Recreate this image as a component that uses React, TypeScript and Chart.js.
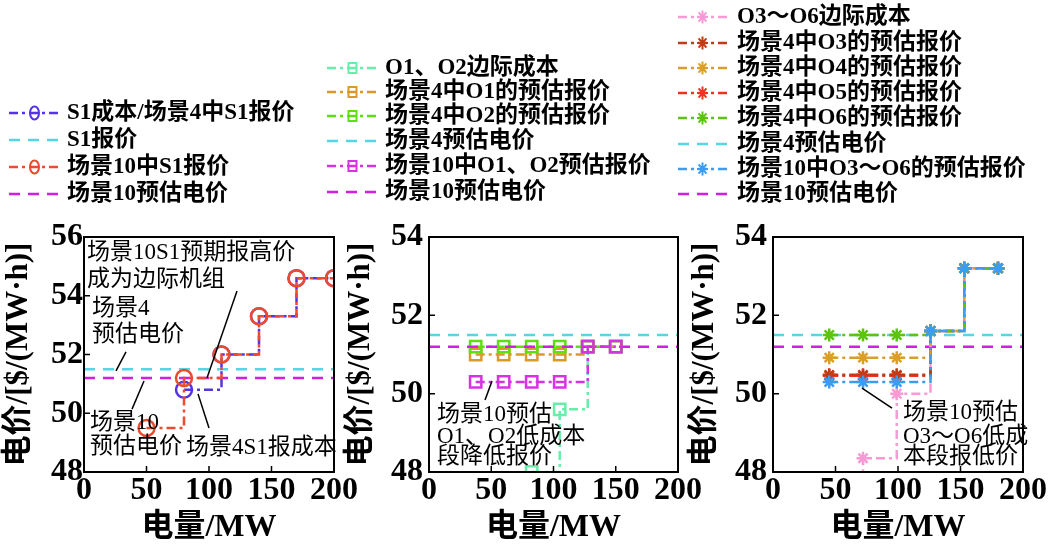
import React, { useEffect, useRef } from 'react';
import { Chart, registerables } from 'chart.js';

Chart.register(...registerables);

const FONT = '"Liberation Serif", "Noto Sans CJK SC", serif';

// ---------- shared ----------
const xTicks = [0, 50, 100, 150, 200];
const priceX = [0, 200];
const priceS4 = 51.5; // 场景4预估电价
const priceS10 = 51.2; // 场景10预估电价

// ---------- panel (a): S1 ----------
const aYTicks = [48, 50, 52, 54, 56];
const aX_S1Cost = [80, 110, 140, 170, 200];
const aY_S1Cost = [50.8, 52.0, 53.3, 54.6, 54.6];
const aX_S1Bid10 = [50, 80, 110, 140, 170, 200];
const aY_S1Bid10 = [49.5, 51.2, 52.0, 53.3, 54.6, 54.6];

// ---------- panel (b): O1, O2 ----------
const bYTicks = [48, 50, 52, 54];
const bX = [37.5, 60, 82.5, 105, 127.5, 150];
const bX_Cost = [82.5, 105, 127.5, 150];
const bY_Cost = [48.0, 49.6, 51.2, 51.2];
const bY_O1S4 = [51.0, 51.0, 51.0, 51.0, 51.2, 51.2];
const bY_O2S4 = [51.2, 51.2, 51.2, 51.2, 51.2, 51.2];
const bY_S10 = [50.3, 50.3, 50.3, 50.3, 51.2, 51.2];

// ---------- panel (c): O3 ~ O6 ----------
const cYTicks = [48, 50, 52, 54];
const cX = [45, 72, 99, 126, 153, 180];
const cY_Cost = [47.5, 48.35, 50.0, 51.6, 53.2, 53.2];
const cY_O3S4 = [50.48, 50.48, 50.48, 51.6, 53.2, 53.2];
const cY_O4S4 = [50.92, 50.92, 50.92, 51.6, 53.2, 53.2];
const cY_O5S4 = [50.46, 50.46, 50.46, 51.6, 53.2, 53.2];
const cY_O6S4 = [51.5, 51.5, 51.5, 51.6, 53.2, 53.2];
const cY_S10 = [50.3, 50.3, 50.3, 51.6, 53.2, 53.2];

// ---------- annotations (data units) ----------
const aNotes = [
  { text: '场景10S1预期报高价', x: 2.4, y: 55.46 },
  { text: '成为边际机组', x: 2.4, y: 54.54 },
  { text: '场景4', x: 6.4, y: 53.55 },
  { text: '预估电价', x: 6.4, y: 52.66 },
  { text: '场景10', x: 4.8, y: 49.67 },
  { text: '预估电价', x: 4.8, y: 48.85 },
  { text: '场景4S1报成本', x: 81.6, y: 48.82 },
];
const aLeaders = [
  [122.4, 54.16, 98.4, 51.2],
  [33.6, 52.09, 25.6, 51.44],
  [48, 51.1, 38.4, 50.14],
  [91.2, 50.66, 100, 49.5],
];
const bNotes = [
  { text: '场景10预估', x: 6.4, y: 49.46 },
  { text: 'O1、O2低成本', x: 6.4, y: 48.89 },
  { text: '段降低报价', x: 6.4, y: 48.38 },
];
const bLeaders = [[50.6, 50.32, 45, 49.84]];
const cNotes = [
  { text: '场景10预估', x: 104, y: 49.51 },
  { text: 'O3～O6低成', x: 104, y: 48.89 },
  { text: '本段报低价', x: 104, y: 48.38 },
];
const cLeaders = [[71.2, 50.14, 95.2, 49.63]];

// ---------- styles ----------
const DASH = [11, 8];
const DASHDOT = [9, 4, 3, 4];

function pts(xs: number[], ys: number[]) {
  return xs.map((x, i) => ({ x, y: ys[i] }));
}

function stepSeries(label: string, xs: number[], ys: number[], color: string, style: string, order: number, legendIndex: number, radius: number | number[] = 8) {
  return {
    label,
    data: pts(xs, ys),
    borderColor: color,
    backgroundColor: color,
    borderWidth: 2.5,
    borderDash: DASHDOT,
    stepped: 'before',
    pointStyle: style,
    pointRadius: radius,
    pointBorderWidth: 2.5,
    pointBorderColor: color,
    pointBackgroundColor: 'rgba(0,0,0,0)',
    order,
    legendIndex,
    legendStyle: style,
    legendDash: DASHDOT,
  };
}

function priceLine(label: string, y: number, color: string, order: number, legendIndex: number) {
  return {
    label,
    data: pts(priceX, [y, y]),
    borderColor: color,
    backgroundColor: color,
    borderWidth: 2.5,
    borderDash: DASH,
    pointRadius: 0,
    order,
    legendIndex,
    legendStyle: 'none',
    legendDash: DASH,
  };
}

const C = {
  s1: '#5533e6',
  cyan: '#55d6e2',
  red: '#ee4a2e',
  magenta: '#d01fe0',
  aqua: '#66eeaa',
  o1: '#d99a2b',
  o2: '#5ee010',
  magSq: '#d633e0',
  pink: '#f79ad6',
  o3: '#c43a14',
  o4: '#dc9f25',
  o5: '#ee3322',
  o6: '#5cc40f',
  blue: '#3c9cf0',
};

const aDatasets = [
  stepSeries('场景10中S1报价', aX_S1Bid10, aY_S1Bid10, C.red, 'circle', 1, 2),
  stepSeries('S1成本/场景4中S1报价', aX_S1Cost, aY_S1Cost, C.s1, 'circle', 2, 0),
  priceLine('场景10预估电价', priceS10, C.magenta, 3, 3),
  priceLine('S1报价', priceS4, C.cyan, 4, 1),
];

const bDatasets = [
  stepSeries('场景10中O1、O2预估报价', bX, bY_S10, C.magSq, 'rect', 1, 4, 8),
  priceLine('场景10预估电价', priceS10, C.magenta, 2, 5),
  stepSeries('场景4中O2的预估报价', bX, bY_O2S4, C.o2, 'rect', 3, 2, 8),
  stepSeries('场景4中O1的预估报价', bX, bY_O1S4, C.o1, 'rect', 4, 1, 8),
  stepSeries('O1、O2边际成本', bX_Cost, bY_Cost, C.aqua, 'rect', 5, 0, 8),
  priceLine('场景4预估电价', priceS4, C.cyan, 6, 3),
];

const cDatasets = [
  stepSeries('场景10中O3～O6的预估报价', cX, cY_S10, C.blue, 'star', 1, 6, 6.5),
  stepSeries('场景4中O6的预估报价', cX, cY_O6S4, C.o6, 'star', 2, 4, 6.5),
  stepSeries('场景4中O4的预估报价', cX, cY_O4S4, C.o4, 'star', 3, 2, 6.5),
  stepSeries('场景4中O3的预估报价', cX, cY_O3S4, C.o3, 'star', 4, 1, 6.5),
  stepSeries('场景4中O5的预估报价', cX, cY_O5S4, C.o5, 'star', 5, 3, 6.5),
  stepSeries('O3～O6边际成本', cX, cY_Cost, C.pink, 'star', 6, 0, [0, 6.5, 6.5, 6.5, 6.5, 6.5]),
  priceLine('场景4预估电价', priceS4, C.cyan, 7, 5),
  priceLine('场景10预估电价', priceS10, C.magenta, 8, 7),
];

// ---------- plugins ----------
const framePlugin = {
  id: 'frame',
  afterDraw(chart: any) {
    const { ctx, chartArea: a, scales } = chart;
    ctx.save();
    ctx.strokeStyle = '#000';
    ctx.lineWidth = 2;
    ctx.setLineDash([]);
    ctx.strokeRect(a.left, a.top, a.right - a.left, a.bottom - a.top);
    ctx.lineWidth = 1.5;
    ctx.beginPath();
    scales.x.ticks.forEach((t: any) => {
      const px = scales.x.getPixelForValue(t.value);
      if (px > a.left + 2 && px < a.right - 2) {
        ctx.moveTo(px, a.bottom);
        ctx.lineTo(px, a.bottom - 6);
      }
    });
    scales.y.ticks.forEach((t: any) => {
      const py = scales.y.getPixelForValue(t.value);
      if (py > a.top + 2 && py < a.bottom - 2) {
        ctx.moveTo(a.left, py);
        ctx.lineTo(a.left + 6, py);
      }
    });
    ctx.stroke();
    ctx.restore();
  },
};

function notesPlugin(notes: any[], leaders: number[][]) {
  return {
    id: 'notes',
    afterDatasetsDraw(chart: any) {
      const { ctx, scales } = chart;
      const X = (v: number) => scales.x.getPixelForValue(v);
      const Y = (v: number) => scales.y.getPixelForValue(v);
      ctx.save();
      ctx.strokeStyle = '#000';
      ctx.lineWidth = 1.5;
      ctx.setLineDash([]);
      leaders.forEach((l) => {
        ctx.beginPath();
        ctx.moveTo(X(l[0]), Y(l[1]));
        ctx.lineTo(X(l[2]), Y(l[3]));
        ctx.stroke();
      });
      ctx.fillStyle = '#000';
      ctx.font = '23px ' + FONT;
      ctx.textAlign = 'left';
      ctx.textBaseline = 'middle';
      notes.forEach((n) => ctx.fillText(n.text, X(n.x), Y(n.y)));
      ctx.restore();
    },
  };
}

function drawLegendMarker(ctx: CanvasRenderingContext2D, style: string, x: number, y: number, color: string) {
  ctx.save();
  ctx.strokeStyle = color;
  ctx.lineWidth = 2;
  ctx.setLineDash([]);
  ctx.beginPath();
  if (style === 'circle') {
    ctx.ellipse(x, y, 4.5, 6.5, 0, 0, Math.PI * 2);
  } else if (style === 'rect') {
    ctx.rect(x - 4, y - 5, 8, 10);
  } else if (style === 'star') {
    for (let k = 0; k < 4; k++) {
      const ang = (k * Math.PI) / 4;
      const dx = 5.5 * Math.cos(ang);
      const dy = 6.5 * Math.sin(ang);
      ctx.moveTo(x + dx, y + dy);
      ctx.lineTo(x - dx, y - dy);
    }
  }
  ctx.stroke();
  ctx.restore();
}

function legendPlugin(lg: { rows: number[]; x0: number; x1: number; tx: number }) {
  return {
    id: 'customLegend',
    afterDraw(chart: any) {
      const ctx = chart.ctx;
      const items = chart.data.datasets.slice().sort((p: any, q: any) => p.legendIndex - q.legendIndex);
      ctx.save();
      items.forEach((ds: any, i: number) => {
        const y = lg.rows[i];
        ctx.strokeStyle = ds.borderColor;
        ctx.lineWidth = 2.5;
        ctx.setLineDash(ds.legendDash);
        ctx.beginPath();
        ctx.moveTo(lg.x0, y);
        ctx.lineTo(lg.x1, y);
        ctx.stroke();
        if (ds.legendStyle !== 'none') drawLegendMarker(ctx, ds.legendStyle, (lg.x0 + lg.x1) / 2, y, ds.borderColor);
        ctx.setLineDash([]);
        ctx.fillStyle = '#000';
        ctx.font = 'bold 23px ' + FONT;
        ctx.textAlign = 'left';
        ctx.textBaseline = 'middle';
        ctx.fillText(ds.label, lg.tx, y);
      });
      ctx.restore();
    },
  };
}

// ---------- panel layout ----------
const panels = [
  {
    L: 0, W: 365, padL: 0, axisW: 84, padR: 31, yMax: 56, yTicks: aYTicks, yTickPad: 1,
    datasets: aDatasets, notes: aNotes, leaders: aLeaders,
    legend: { rows: [113, 140, 167, 194], x0: 9, x1: 60, tx: 67 },
  },
  {
    L: 320, W: 395, padL: 22, axisW: 87, padR: 37, yMax: 54, yTicks: bYTicks, yTickPad: 6,
    datasets: bDatasets, notes: bNotes, leaders: bLeaders,
    legend: { rows: [68, 92, 116, 141, 166, 192], x0: 7, x1: 58, tx: 65 },
  },
  {
    L: 670, W: 378, padL: 16, axisW: 87, padR: 25, yMax: 54, yTicks: cYTicks, yTickPad: 6,
    datasets: cDatasets, notes: cNotes, leaders: cLeaders,
    legend: { rows: [17, 43, 68, 93, 118, 144, 169, 194], x0: 8, x1: 57, tx: 67 },
  },
];

function makeConfig(p: any): any {
  return {
    type: 'line',
    data: { datasets: p.datasets },
    options: {
      animation: false,
      responsive: false,
      events: [],
      layout: { padding: { top: 237, right: p.padR, left: p.padL, bottom: 0 } },
      plugins: { legend: { display: false }, tooltip: { enabled: false } },
      scales: {
        x: {
          type: 'linear',
          min: 0,
          max: 200,
          grid: { display: false, drawTicks: false },
          border: { display: false },
          ticks: { font: { family: FONT, size: 32, weight: 'bold' }, color: '#000', padding: 0, maxRotation: 0, autoSkip: false },
          afterBuildTicks: (s: any) => { s.ticks = xTicks.map((v) => ({ value: v })); },
          afterFit: (s: any) => { s.height = 75; },
          title: { display: true, text: '电量/MW', font: { family: FONT, size: 32, weight: 'bold' }, color: '#000', padding: 0 },
        },
        y: {
          type: 'linear',
          min: 48,
          max: p.yMax,
          grid: { display: false, drawTicks: false },
          border: { display: false },
          ticks: { font: { family: FONT, size: 32, weight: 'bold' }, color: '#000', padding: p.yTickPad, autoSkip: false },
          afterBuildTicks: (s: any) => { s.ticks = p.yTicks.map((v: number) => ({ value: v })); },
          afterFit: (s: any) => { s.width = p.axisW; },
          title: { display: true, text: '电价/[$/(MW·h)]', font: { family: FONT, size: 31, weight: 'bold' }, color: '#000', padding: 0 },
        },
      },
    },
    plugins: [framePlugin, notesPlugin(p.notes, p.leaders), legendPlugin(p.legend)],
  };
}

function Panel({ p }: { p: any }) {
  const ref = useRef<HTMLCanvasElement>(null);
  useEffect(() => {
    const chart = new Chart(ref.current as HTMLCanvasElement, makeConfig(p));
    return () => chart.destroy();
  }, []);
  return (
    <canvas
      ref={ref}
      width={p.W}
      height={547}
      style={{ position: 'absolute', left: p.L, top: 0, width: p.W, height: 547 }}
    />
  );
}

export default function App() {
  return (
    <div style={{ position: 'fixed', left: 0, top: 0, width: 1048, height: 547, background: '#fff', overflow: 'hidden' }}>
      {panels.map((p, i) => (
        <Panel key={i} p={p} />
      ))}
    </div>
  );
}
